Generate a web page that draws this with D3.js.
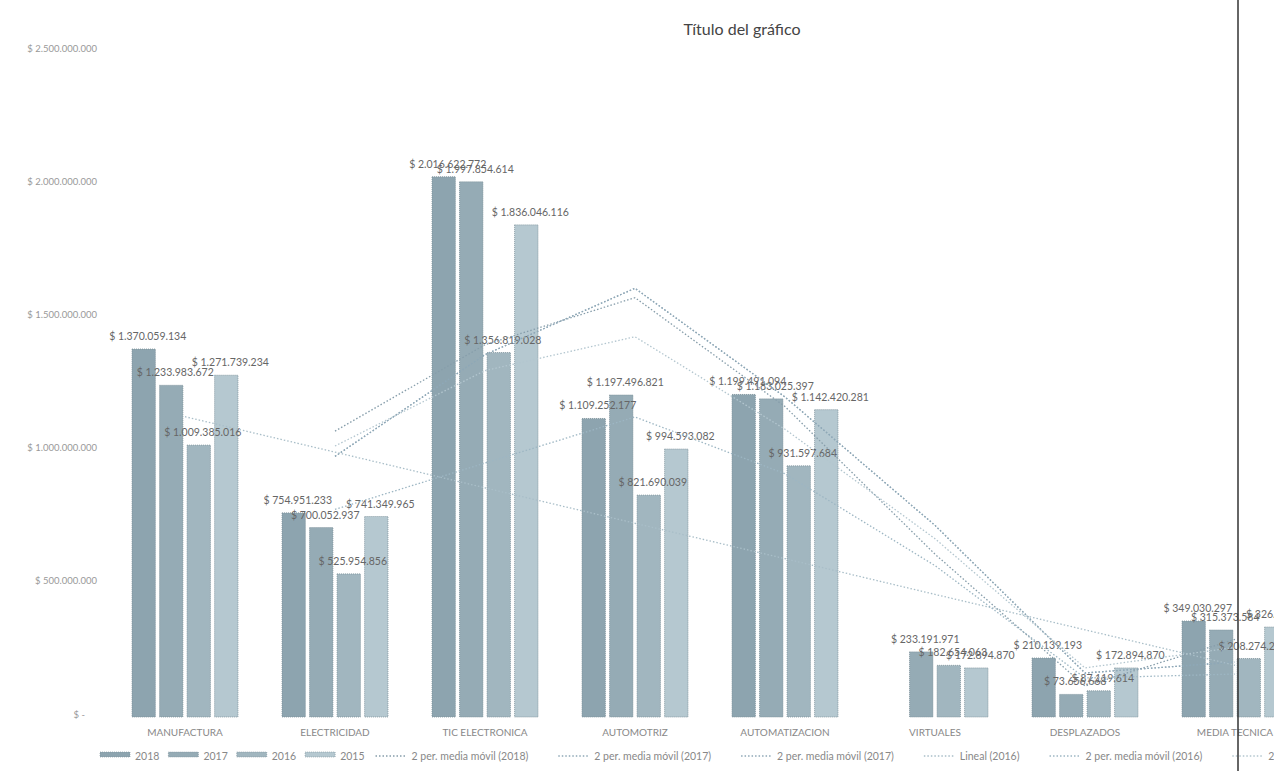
<!DOCTYPE html>
<html>
<head>
<meta charset="utf-8">
<script src="https://cdn.jsdelivr.net/npm/d3@7"></script>
<style>
  html, body { margin: 0; padding: 0; background: #ffffff; }
  svg { display: block; }
  text { font-family: Lato, "Liberation Sans", sans-serif; }
</style>
</head>
<body>
<svg id="chart" width="1274" height="771"></svg>
<script>
// ---------- data ----------
const categories = ["MANUFACTURA", "ELECTRICIDAD", "TIC ELECTRONICA", "AUTOMOTRIZ",
                    "AUTOMATIZACION", "VIRTUALES", "DESPLAZADOS", "MEDIA TECNICA"];
const years = ["2018", "2017", "2016", "2015"];
const values2018 = [1370059134, 754951233, 2016622772, 1109252177, 1199491094, null, 210139193, 349030297];
const values2017 = [1233983672, 700052937, 1997854614, 1197496821, 1183025397, 233191971, 73656668, 315373584];
const values2016 = [1009385016, 525954856, 1356819028, 821690039, 931597684, 182654063, 87119614, 208274200];
const values2015 = [1271739234, 741349965, 1836046116, 994593082, 1142420281, 172894870, 172894870, 326412000];

// trend lines (value at each category)
const ma2018 = [null, 1062000000, 1386000000, 1563000000, 1154000000, 600000000, 105000000, 280000000];
const ma2017 = [null, 967000000, 1349000000, 1598000000, 1190000000, 708000000, 154000000, 195000000];
const ma2017b = [null, 967000000, 1349000000, 1598000000, 1190000000, 708000000, 154000000, 195000000];
const lineal2016 = [1116000000, 983000000, 849000000, 716000000, 583000000, 449000000, 316000000, 183000000];
const ma2016 = [null, 768000000, 942000000, 1115000000, 902000000, 557000000, 135000000, 150000000];
const ma2015 = [null, 1006000000, 1289000000, 1416000000, 1069000000, 658000000, 173000000, 250000000];

const yTicks = [0, 500000000, 1000000000, 1500000000, 2000000000, 2500000000];
const barLegendLabels = ["2018", "2017", "2016", "2015"];
const lineLegendLabels = ["2 per. media móvil (2018)", "2 per. media móvil (2017)", "2 per. media móvil (2017)",
                          "Lineal (2016)", "2 per. media móvil (2016)", "2 per. media móvil (2015)"];
const chartTitle = "Título del gráfico";

// ---------- styles ----------
const barColors = { "2018": "#8da4af", "2017": "#95abb5", "2016": "#a1b6bf", "2015": "#b5c8d0" };
const lineColors = ["#869daa", "#8fa8b7", "#8fa8b7", "#a9bec8", "#9db6c3", "#b3c6cf"];

const series = { "2018": values2018, "2017": values2017, "2016": values2016, "2015": values2015 };
const trends = [ma2018, ma2017, ma2017b, lineal2016, ma2016, ma2015];

const locale = d3.formatLocale({ decimal: ",", thousands: ".", grouping: [3], currency: ["$ ", ""] });
const fmt = locale.format("$,.0f");

const svg = d3.select("#chart");

const x0 = d3.scaleBand().domain(categories).range([110, 1310]);
const x1 = d3.scaleBand().domain(years).range([22, 128]).paddingInner(0.15);
const y = d3.scaleLinear().domain([0, 2500000000]).range([714, 48]);

// title
svg.append("text")
  .attr("x", 742).attr("y", 35)
  .attr("text-anchor", "middle")
  .attr("font-size", 16)
  .attr("fill", "#444")
  .text(chartTitle);

// y axis labels
const yAxis = d3.axisLeft(y).tickValues(yTicks).tickSize(0)
  .tickFormat(d => d === 0 ? "$ -" : fmt(d));
const yg = svg.append("g").attr("transform", "translate(100,0)").call(yAxis);
yg.select(".domain").remove();
yg.selectAll("text")
  .attr("font-size", 9.5)
  .attr("fill", "#999")
  .attr("font-family", "Lato, 'Liberation Sans', sans-serif")
  .attr("dx", d => d === 0 ? -12 : 0);

// bars
const groups = svg.append("g").selectAll("g")
  .data(categories).join("g")
  .attr("transform", d => `translate(${x0(d)},0)`);

groups.selectAll("rect")
  .data((c, i) => years.map(yr => ({ yr, v: series[yr][i] })).filter(d => d.v != null))
  .join("rect")
  .attr("x", d => x1(d.yr))
  .attr("width", x1.bandwidth())
  .attr("y", d => y(d.v))
  .attr("height", d => y(0) - y(d.v) + 3)
  .attr("fill", d => barColors[d.yr])
  .attr("stroke", "#7b8f98")
  .attr("stroke-width", 0.8)
  .attr("stroke-dasharray", "1,1");

// trend lines
const line = d3.line()
  .defined(d => d.v != null)
  .x(d => x0(d.c) + x0.bandwidth() / 2)
  .y(d => y(d.v));

svg.append("g").selectAll("path")
  .data(trends).join("path")
  .attr("d", t => line(t.map((v, i) => ({ c: categories[i], v }))))
  .attr("fill", "none")
  .attr("stroke", (t, i) => lineColors[i])
  .attr("stroke-width", 1.3)
  .attr("stroke-dasharray", "1.5,2");

// data labels
groups.selectAll("text.lbl")
  .data((c, i) => years.map(yr => ({ yr, v: series[yr][i] })).filter(d => d.v != null))
  .join("text")
  .attr("class", "lbl")
  .attr("x", d => x1(d.yr) + x1.bandwidth() / 2 + 4)
  .attr("y", d => y(d.v) - 9)
  .attr("text-anchor", "middle")
  .attr("font-size", 10.5)
  .attr("fill", "#666")
  .text(d => fmt(d.v));

// category labels
svg.append("g").selectAll("text")
  .data(categories).join("text")
  .attr("x", d => x0(d) + x0.bandwidth() / 2)
  .attr("y", 736)
  .attr("text-anchor", "middle")
  .attr("font-size", 10)
  .attr("fill", "#888")
  .text(d => d);

// legend
const lg = svg.append("g");
let lx = 100;
const ly = 756;
barLegendLabels.forEach(lbl => {
  lg.append("rect").attr("x", lx).attr("y", ly - 4).attr("width", 30).attr("height", 5)
    .attr("fill", barColors[lbl]).attr("stroke", "#7b8f98").attr("stroke-width", 0.6).attr("stroke-dasharray", "1,1");
  const t = lg.append("text").attr("x", lx + 35).attr("y", ly + 3.5)
    .attr("font-size", 10.5).attr("fill", "#888").text(lbl);
  lx += 35 + t.node().getComputedTextLength() + 9;
});
lx += 2;
lineLegendLabels.forEach((lbl, i) => {
  lg.append("line").attr("x1", lx).attr("x2", lx + 30).attr("y1", ly).attr("y2", ly)
    .attr("stroke", lineColors[i]).attr("stroke-width", 1.3).attr("stroke-dasharray", "1.5,2");
  const t = lg.append("text").attr("x", lx + 36).attr("y", ly + 3.5)
    .attr("font-size", 10.5).attr("fill", "#888").text(lbl);
  lx += 36 + t.node().getComputedTextLength() + 30;
});

// page edge line in the scan
svg.append("line").attr("x1", 1238).attr("x2", 1238).attr("y1", 0).attr("y2", 771)
  .attr("stroke", "#333").attr("stroke-width", 1.5);
</script>
</body>
</html>
